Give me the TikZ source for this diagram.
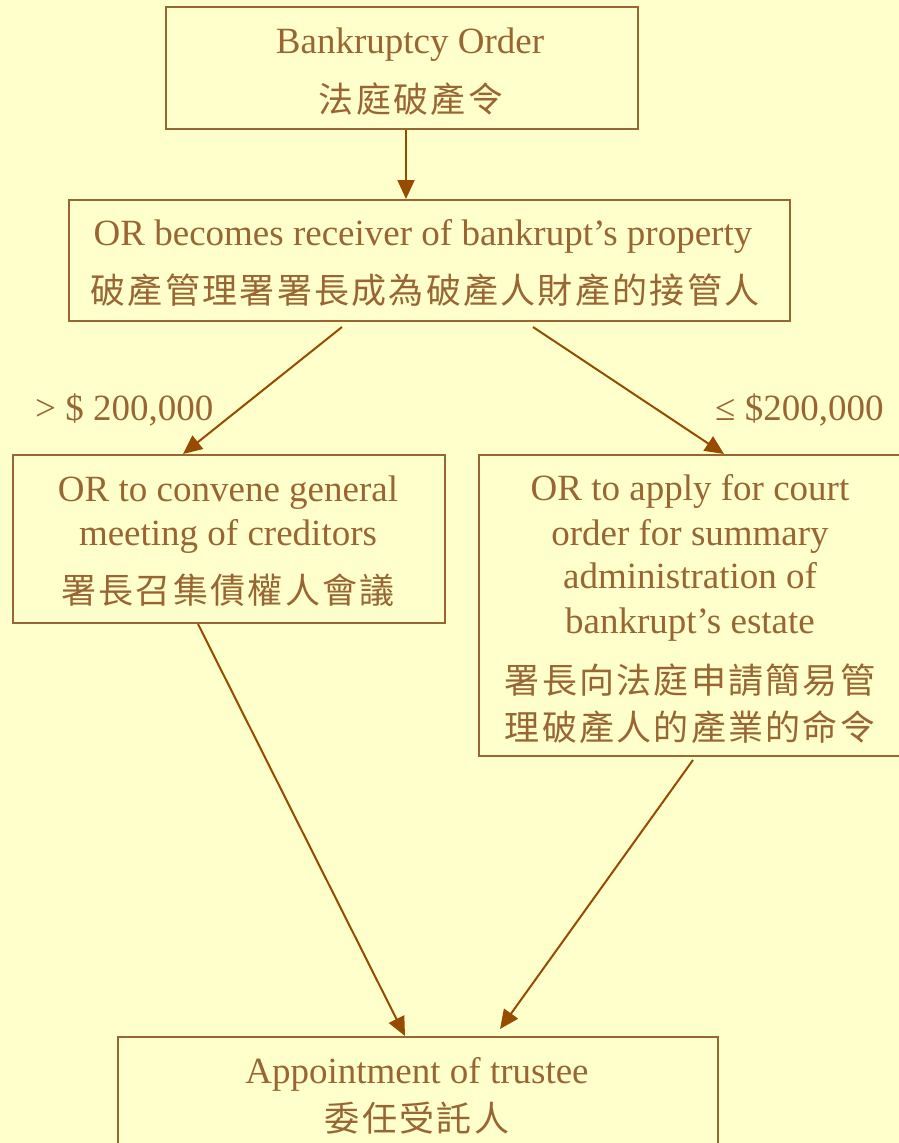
\documentclass[tikz,border=0pt]{standalone}
\usepackage{fontspec}
\setmainfont{Liberation Serif}
\newfontfamily\cjk[LetterSpace=6.5]{Noto Sans CJK TC}
\usetikzlibrary{arrows.meta}
\definecolor{bg}{HTML}{FFFFCC}
\definecolor{txt}{HTML}{996633}
\definecolor{arr}{HTML}{964B00}
\begin{document}
\begin{tikzpicture}[x=1pt,y=-1pt,
 box/.style={draw=txt, line width=2pt, rectangle, inner sep=0pt, anchor=north west},
 en/.style={text=txt, font=\fontsize{37}{44}\selectfont, anchor=base, inner sep=0pt},
 zh/.style={text=txt, font=\fontsize{35}{42}\cjk, anchor=center, inner sep=0pt},
 link/.style={draw=arr, line width=2pt, -{Triangle[length=19pt,width=17pt]}}]
\useasboundingbox (0,0) rectangle (899,1143);
\fill[bg] (0,0) rectangle (899,1143);
\begin{scope}
\clip (0,0) rectangle (899,1143);
% boxes
\node[box, minimum width=472pt, minimum height=122pt] (b1) at (165,6) {};
\node[box, minimum width=721pt, minimum height=121pt] (b2) at (68,199) {};
\node[box, minimum width=432pt, minimum height=168pt] (lb) at (12,454) {};
\node[box, minimum width=424pt, minimum height=301pt] (rb) at (478,454) {};
\node[box, minimum width=600pt, minimum height=130pt] (b5) at (117,1036) {};
% texts
\node[en] (t1a) at (410,53) {Bankruptcy Order};
\node[zh] (t1b) at (411,99) {法庭破產令};
\node[en] (t2a) at (423,245) {OR becomes receiver of bankrupt’s property};
\node[zh] (t2b) at (425,290) {破產管理署署長成為破產人財產的接管人};
\node[en] (t3a) at (228,501) {OR to convene general};
\node[en] (t3b) at (228,545) {meeting of creditors};
\node[zh] (t3c) at (228,590) {署長召集債權人會議};
\node[en] (t4a) at (690,500) {OR to apply for court};
\node[en] (t4b) at (690,545) {order for summary};
\node[en] (t4c) at (690,588) {administration of};
\node[en] (t4d) at (690,633) {bankrupt’s estate};
\node[zh] (t4e) at (690,680) {署長向法庭申請簡易管};
\node[zh] (t4f) at (690,727) {理破產人的產業的命令};
\node[en] (t5a) at (417,1083) {Appointment of trustee};
\node[zh] (t5b) at (417,1118) {委任受託人};
% labels
\node[en, anchor=base west] (l1) at (35,420) {> \$ 200,000};
\node[en, anchor=base west] (l2) at (715,420) {≤ \$200,000};
% connectors
\draw[link] ([xshift=4pt]b1.south) -- ([xshift=4pt]b1.south |- b2.north);
\draw[link] ([xshift=-87.5pt,yshift=-5pt]b2.south) -- ([xshift=-46pt]lb.north);
\draw[link] ([xshift=103.5pt,yshift=-5pt]b2.south) -- ([xshift=33pt]rb.north);
\draw[link] ([xshift=-31pt]lb.south) -- ([xshift=-13pt]b5.north);
\draw[link] ([xshift=2pt,yshift=-3pt]rb.south) -- ([xshift=82pt,yshift=7pt]b5.north);
\end{scope}
\end{tikzpicture}
\end{document}
